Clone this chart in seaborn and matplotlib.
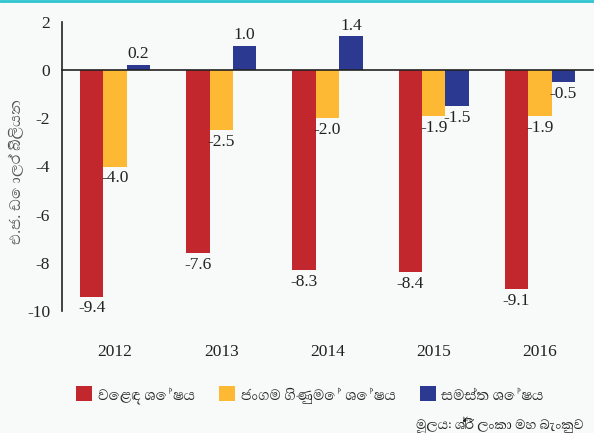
import matplotlib
matplotlib.use("Agg")
import matplotlib.pyplot as plt
import seaborn as sns
import pandas as pd
from matplotlib.patches import Patch

years = ["2012", "2013", "2014", "2015", "2016"]
series = ["වෙළඳ ශේෂය", "ජංගම ගිණුමේ ශේෂය", "සමස්ත ශේෂය"]
trade = [-9.4, -7.6, -8.3, -8.4, -9.1]
current = [-4.0, -2.5, -2.0, -1.9, -1.9]
overall = [0.2, 1.0, 1.4, -1.5, -0.5]
colors = ["#c1272d", "#fdb933", "#2b3990"]
ylabel = "එ.ජ. ඩොලර් බිලියන"
source = "මූලය: ශ්‍රී ලංකා මහ බැංකුව"

rows = []
for s, vals in zip(series, [trade, current, overall]):
    for y, v in zip(years, vals):
        rows.append({"year": y, "series": s, "value": v})
df = pd.DataFrame(rows)

sns.set_style("white")
plt.rcParams["font.family"] = ["Liberation Serif", "Abhaya Libre", "DejaVu Serif"]
SIN = ["Abhaya Libre", "Noto Serif Sinhala", "DejaVu Sans"]

bg = "#f8faf9"
fig = plt.figure(figsize=(5.94, 4.33), dpi=100, facecolor=bg)
ax = fig.add_axes([62/594, 1 - 311/433, (593-62)/594, (311-22)/433])
ax.set_facecolor(bg)

sns.barplot(data=df, x="year", y="value", hue="series", palette=colors,
            width=0.66, gap=0, ax=ax, legend=False, errorbar=None,
            saturation=1, edgecolor="none")

ax.set_ylim(-10, 2)
ax.set_xlim(-0.5, 4.5)
for sp in ["top", "right"]:
    ax.spines[sp].set_visible(False)
ax.spines["bottom"].set_position(("data", 0))
for sp in ["bottom", "left"]:
    ax.spines[sp].set_color("#222222")
    ax.spines[sp].set_linewidth(1.2)

ax.set_xticks([-0.5, 0.5, 1.5, 2.5, 3.5, 4.5])
ax.set_xticklabels([])
ax.tick_params(axis="x", direction="inout", length=9, width=1.2, color="#222222")
ax.set_yticks(range(-10, 3, 2))
ax.set_yticklabels([str(v) for v in range(-10, 3, 2)], fontsize=12.5, color="#222222")
ax.tick_params(axis="y", direction="inout", length=9, width=1.2, color="#222222", pad=4)
ax.set_xlabel("")
ax.set_ylabel("")

# category labels
for i, y in enumerate(years):
    ax.text(i, -11.7, y, ha="center", va="center", fontsize=12.5, color="#222222")

# value labels
for c in ax.containers:
    for bar in c:
        h = bar.get_height()
        x = bar.get_x() + bar.get_width() / 2
        if h >= 0:
            ax.text(x, h + 0.12, f"{h:.1f}", ha="center", va="bottom", fontsize=12.5, color="#222222")
        else:
            ax.text(x, h - 0.15, f"{h:.1f}", ha="center", va="top", fontsize=12.5, color="#222222")

fig.text(17/594, 1 - 172/433, ylabel, rotation=90, ha="center", va="center",
         fontsize=14, color="#555555", family=SIN)

handles = [Patch(facecolor=c, edgecolor="none") for c in colors]
fig.legend(handles, series, loc="center", bbox_to_anchor=(310/594, 1 - 395/433), ncol=3,
           frameon=False, handlelength=0.85, handleheight=0.85,
           columnspacing=1.3, handletextpad=0.3,
           prop={"family": SIN, "size": 13.5})

fig.text(584/594, 1 - 425/433, source, ha="right", va="center",
         color="#222222", family=SIN, fontsize=12.5)

fig.add_artist(plt.Line2D([0, 1], [1 - 1/433, 1 - 1/433], color="#2ec4d0", lw=2.0,
                          transform=fig.transFigure))

fig.savefig("out.png", dpi=100, facecolor=bg)
